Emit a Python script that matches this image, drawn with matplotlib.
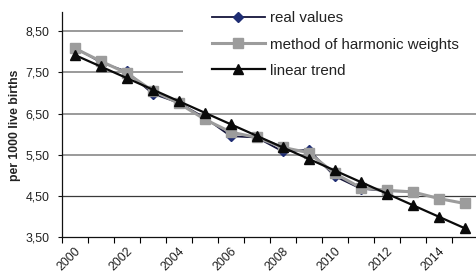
import matplotlib
matplotlib.use("Agg")
import matplotlib.pyplot as plt
from matplotlib.patches import Rectangle

plt.rcParams['font.family'] = ['Liberation Sans', 'DejaVu Sans']

years = list(range(2000, 2016))
real_years = list(range(2000, 2014))
real_values = [8.10, 7.74, 7.52, 6.98, 6.76, 6.40, 5.95, 5.92, 5.58, 5.62, 4.98, 4.68, 4.62, 4.61]
harmonic = [8.08, 7.77, 7.48, 7.05, 6.75, 6.36, 6.05, 5.92, 5.68, 5.55, 5.05, 4.70, 4.64, 4.60, 4.44, 4.32]
trend = [7.92, 7.64, 7.36, 7.08, 6.80, 6.52, 6.24, 5.96, 5.68, 5.40, 5.12, 4.84, 4.56, 4.28, 4.00, 3.72]
yticks = [3.5, 4.5, 5.5, 6.5, 7.5, 8.5]
xlabel_years = [2000, 2002, 2004, 2006, 2008, 2010, 2012, 2014]

W, H = 476, 273
fig = plt.figure(figsize=(W / 100, H / 100), dpi=100)
ax = fig.add_axes([61.7 / W, (H - 237.3) / H, 416 / W, (237.3 - 11.7) / H])
ax.set_xlim(1999.5, 2015.5)
ax.set_ylim(3.5, 8.968)

for v in yticks[1:]:
    if v == 4.5:
        ax.axhline(v, color='#3a3a3a', lw=0.9, zorder=0)
    else:
        ax.axhline(v, color='#9a9a9a', lw=1.4, zorder=0)

# white legend background
ax.add_patch(Rectangle((183 / W, (H - 80) / H), 1, 1, transform=fig.transFigure,
                       facecolor='white', edgecolor='none', zorder=1))

ax.plot(real_years, real_values, color='#15153a', lw=1.3, marker='D', ms=5.2,
        mfc='#1f2d73', mec='#1f2d73', zorder=2, label='real values')
ax.plot(years, harmonic, color='#9c9c9c', lw=2.2, marker='s', ms=7.2,
        mfc='#9c9c9c', mec='#9c9c9c', zorder=3, label='method of harmonic weights')
ax.plot(years, trend, color='#0a0a0a', lw=1.6, marker='^', ms=7.8,
        mfc='#0a0a0a', mec='#0a0a0a', zorder=4, label='linear trend')

for s in ['top', 'right']:
    ax.spines[s].set_visible(False)
ax.spines['left'].set_color('#111111')
ax.spines['bottom'].set_color('#111111')
ax.spines['left'].set_linewidth(0.9)
ax.spines['bottom'].set_linewidth(0.9)

ax.set_yticks(yticks)
ax.set_yticklabels([f"{v:.2f}".replace('.', ',') for v in yticks], fontsize=8.9, color='#222222')
ax.tick_params(axis='y', length=3, width=0.8, pad=6, colors='#111111')
for t in ax.get_yticklabels():
    t.set_color('#222222')

ax.set_xticks([y - 0.5 for y in years] + [2015.5])
ax.set_xticklabels([])
ax.tick_params(axis='x', which='major', length=4, width=0.8, direction='out')
ax.set_xticks(xlabel_years, minor=True)
ax.set_xticklabels([str(y) for y in xlabel_years], minor=True, rotation=45,
                   ha='right', va='top', rotation_mode='anchor', fontsize=8.9, color='#222222')
ax.tick_params(axis='x', which='minor', length=0, pad=5.5)

fig.text(15 / W, (H - 125) / H, 'per 1000 live births', rotation=90, fontsize=8.8,
         fontweight='bold', ha='center', va='center', color='#222222')

leg = ax.legend(loc='upper left', bbox_to_anchor=(212 / W, (H - 11.5) / H),
                bbox_transform=fig.transFigure, frameon=False, fontsize=10.9,
                handlelength=3.5, handletextpad=0.35, borderpad=0, borderaxespad=0,
                labelspacing=0.8)
for t in leg.get_texts():
    t.set_color('#222222')

fig.savefig('out.png', dpi=100)
